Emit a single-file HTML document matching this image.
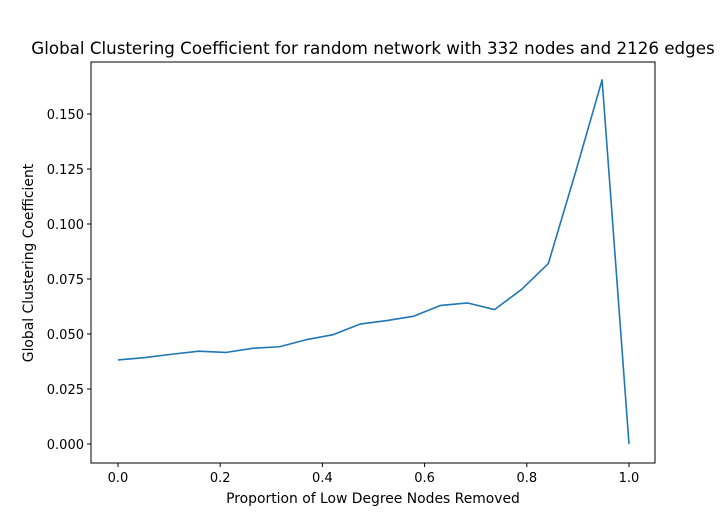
<!DOCTYPE html>
<html><head><meta charset="utf-8"><style>
html,body{margin:0;padding:0;background:#fff;}
svg{display:block;font-family:"DejaVu Sans","Liberation Sans",sans-serif;}
</style></head><body>
<svg id="chart" width="728" height="520">
<rect x="0" y="0" width="728" height="520" fill="#fff"/>
<text x="373" y="54" font-size="16.7" text-anchor="middle">Global Clustering Coefficient for random network with 332 nodes and 2126 edges</text>
<g id="plot"></g>
<text x="373" y="503" font-size="13.9" text-anchor="middle">Proportion of Low Degree Nodes Removed</text>
<text transform="translate(33,263) rotate(-90)" font-size="13.9" text-anchor="middle">Global Clustering Coefficient</text>
</svg>
<script>
const xTicks=[0,0.2,0.4,0.6,0.8,1.0];
const xTickLabels=["0.0","0.2","0.4","0.6","0.8","1.0"];
const yTicks=[0,0.025,0.05,0.075,0.1,0.125,0.15];
const yTickLabels=["0.000","0.025","0.050","0.075","0.100","0.125","0.150"];
const xValues=[0,1/19,2/19,3/19,4/19,5/19,6/19,7/19,8/19,9/19,10/19,11/19,12/19,13/19,14/19,15/19,16/19,17/19,18/19,1];
const yValues=[0.0382,0.0393,0.0408,0.0422,0.0416,0.0435,0.0442,0.0474,0.0497,0.0545,0.0561,0.0581,0.0630,0.0641,0.0611,0.0702,0.0820,0.1230,0.1655,0.0];
const L=91,R=655,T=62,B=463;
const xs=v=>118+(629-118)*v;
const ys=v=>444-(444-114)*v/0.15;
const g=document.getElementById('plot');
const NS='http://www.w3.org/2000/svg';
function mk(t,a){const e=document.createElementNS(NS,t);for(const k in a)e.setAttribute(k,a[k]);g.appendChild(e);return e;}
let fr=mk('rect',{x:L,y:T,width:R-L,height:B-T,fill:'none',stroke:'#000','stroke-width':1});


xTicks.forEach((v,i)=>{const x=xs(v);
let t=mk('line',{x1:x,x2:x,y1:B,y2:B+4,stroke:'#000'});


let l=mk('text',{x:x,y:B+19,'font-size':13,'text-anchor':'middle'});l.textContent=xTickLabels[i];

});
yTicks.forEach((v,i)=>{const y=ys(v);
let t=mk('line',{x1:L-4,x2:L,y1:y,y2:y,stroke:'#000'});


let l=mk('text',{x:L-7,y:y+5,'font-size':13,'text-anchor':'end'});l.textContent=yTickLabels[i];

});
let p=mk('polyline',{points:xValues.map((v,i)=>xs(v)+','+ys(yValues[i])).join(' '),fill:'none',stroke:'#1f77b4','stroke-width':1.6,'stroke-linejoin':'round'});


</script>
</body></html>
